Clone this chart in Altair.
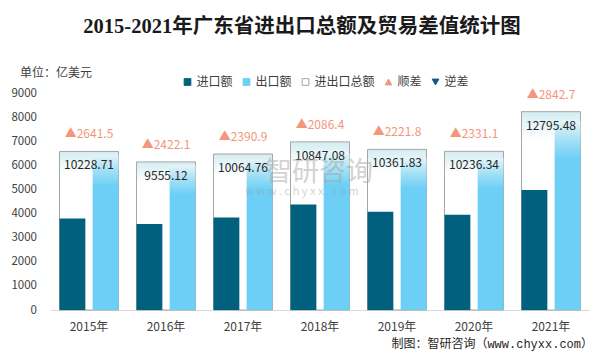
import altair as alt
import pandas as pd

# ---- data ----
years = ["2015年", "2016年", "2017年", "2018年", "2019年", "2020年", "2021年"]
imports = [3793.6, 3566.5, 3836.9, 4380.3, 4070.0, 3952.6, 4976.4]
exports = [6435.1, 5988.6, 6227.8, 6466.7, 6291.8, 6283.7, 7819.1]
totals = [10228.71, 9555.12, 10064.76, 10847.08, 10361.83, 10236.34, 12795.48]
diffs = [2641.5, 2422.1, 2390.9, 2086.4, 2221.8, 2331.1, 2842.7]
legend_names = ["进口额", "出口额", "进出口总额", "顺差", "逆差"]
y_ticks = [0, 1000, 2000, 3000, 4000, 5000, 6000, 7000, 8000, 9000]

FONT = "Microsoft YaHei, Noto Sans CJK SC"
C_IMP = "#02607f"
C_EXP = "#6dcff6"
C_UP = "#f4967a"
C_DOWN = "#0b5e80"
C_BOX = "#a6a6a6"

imp_df = pd.DataFrame({"year": years, "type": "进口额", "value": imports})
exp_df = pd.DataFrame({"year": years, "type": "出口额", "value": exports})
box_df = pd.DataFrame({"year": years, "total": totals, "diff": diffs})
leg_df = pd.DataFrame({"s": legend_names, "v": [None] * len(legend_names)})
one = pd.DataFrame({"a": [0]})

W, H = 539, 217

xscale = alt.Scale(domain=years, paddingInner=0.234, paddingOuter=0.117)
xaxis = alt.Axis(title=None, labelAngle=0, ticks=False, domainColor="#d9d9d9",
                 labelFont=FONT, labelFontSize=12, labelColor="#404040",
                 labelPadding=11)
xenc = alt.X("year:N", scale=xscale, sort=years, axis=xaxis)
off_scale = alt.Scale(domain=["进口额", "出口额"], paddingInner=0.22, paddingOuter=0)

ybar_scale = alt.Scale(domain=[0, 9000], nice=False)
ytot_scale = alt.Scale(domain=[0, 14000], nice=False)

box_grad = alt.Gradient(gradient="linear", x1=0, x2=0, y1=0, y2=1,
                        stops=[alt.GradientStop(color="#d3edf2", offset=0),
                               alt.GradientStop(color="#ffffff", offset=0.14),
                               alt.GradientStop(color="#ffffff", offset=1)])
exp_grad = alt.Gradient(gradient="linear", x1=0, x2=0, y1=0, y2=1,
                        stops=[alt.GradientStop(color="#e4f4f8", offset=0),
                               alt.GradientStop(color="#a3e0f5", offset=0.1),
                               alt.GradientStop(color=C_EXP, offset=0.2),
                               alt.GradientStop(color=C_EXP, offset=1)])

box = alt.Chart(box_df).mark_bar(fill=box_grad, stroke=C_BOX, strokeWidth=1).encode(
    x=xenc,
    y=alt.Y("total:Q", scale=ytot_scale, axis=None),
)

imp = alt.Chart(imp_df).mark_bar(color=C_IMP).encode(
    x=xenc,
    xOffset=alt.XOffset("type:N", scale=off_scale),
    y=alt.Y("value:Q", scale=ybar_scale,
            axis=alt.Axis(title=None, orient="left", values=y_ticks, grid=False,
                          domain=False, ticks=False, labelPadding=14, format="d",
                          labelFont=FONT, labelFontSize=11.5, labelColor="#404040")),
)

exp = alt.Chart(exp_df).mark_bar(fill=exp_grad).encode(
    x=xenc,
    xOffset=alt.XOffset("type:N", scale=off_scale),
    y=alt.Y("value:Q", scale=ybar_scale, axis=None),
)

tot_text = alt.Chart(box_df).mark_text(dy=14, font=FONT, fontSize=12, color="#262626").encode(
    x=xenc,
    y=alt.Y("total:Q", scale=ytot_scale, axis=None),
    text=alt.Text("total:Q", format=".2f"),
)

diff_text = alt.Chart(box_df).transform_calculate(
    lab="'▲' + format(datum.diff, '.1f')"
).mark_text(dy=-17, font=FONT, fontSize=12, color=C_UP).encode(
    x=xenc,
    y=alt.Y("total:Q", scale=ytot_scale, axis=None),
    text="lab:N",
)

leg = alt.Legend(title=None, orient="none", legendX=131, legendY=-17,
                 direction="horizontal", columns=5, labelFont=FONT,
                 labelFontSize=12, labelColor="#404040",
                 labelOffset=3, columnPadding=7, symbolStrokeWidth=1,
                 symbolOpacity=1)
legend_layer = alt.Chart(leg_df).mark_point(opacity=1).encode(
    y=alt.Y("v:Q", scale=ybar_scale, axis=None),
    fill=alt.Fill("s:N", scale=alt.Scale(domain=legend_names,
                  range=[C_IMP, C_EXP, "#ffffff", C_UP, C_DOWN]), legend=leg, sort=legend_names),
    stroke=alt.Stroke("s:N", scale=alt.Scale(domain=legend_names,
                      range=[C_IMP, C_EXP, C_BOX, C_UP, C_DOWN]), legend=leg, sort=legend_names),
    shape=alt.Shape("s:N", scale=alt.Scale(domain=legend_names,
                    range=["square", "square", "square", "triangle-up", "triangle-down"]),
                    legend=leg, sort=legend_names),
    size=alt.Size("s:N", scale=alt.Scale(domain=legend_names,
                  range=[45, 45, 45, 75, 75]), legend=leg, sort=legend_names),
)

title = alt.Chart(one).mark_text(
    font="Liberation Serif, Noto Sans CJK SC", fontSize=20.5, fontWeight="bold",
    color="#1a1a1a", align="center", baseline="middle"
).encode(x=alt.value(251.5), y=alt.value(-66),
         text=alt.value("2015-2021年广东省进出口总额及贸易差值统计图"))

unit = alt.Chart(one).mark_text(
    font=FONT, fontSize=12, color="#404040", align="left", baseline="middle"
).encode(x=alt.value(-30.5), y=alt.value(-20), text=alt.value("单位：亿美元"))

footer = alt.Chart(one).mark_text(
    font="Liberation Mono, Noto Sans CJK SC", fontSize=12, color="#262626",
    align="right", baseline="middle"
).encode(x=alt.value(542.5), y=alt.value(251),
         text=alt.value("制图：智研咨询（www.chyxx.com）"))

wm1 = alt.Chart(one).mark_text(
    font="Noto Sans CJK SC", fontSize=27, color="#9e9e9e", opacity=0.45,
    align="center", baseline="middle"
).encode(x=alt.value(268.5), y=alt.value(80), text=alt.value("智研咨询"))
wm2 = alt.Chart(one).mark_text(
    font="Noto Sans CJK SC", fontSize=11, color="#9e9e9e", opacity=0.45,
    align="center", baseline="middle"
).encode(x=alt.value(251.5), y=alt.value(99), text=alt.value("w w w . c h y x x . c o m"))

chart = alt.layer(
    box, imp, exp, tot_text, diff_text, legend_layer, title, unit, footer, wm1, wm2
).resolve_scale(
    y="independent"
).properties(
    width=W, height=H,
    autosize=alt.AutoSizeParams(type="none"),
    padding={"left": 42.5, "top": 85, "right": 7.5, "bottom": 41},
).configure_view(stroke=None)

chart.save("out.html", embed_options={"renderer": "svg", "actions": False})
